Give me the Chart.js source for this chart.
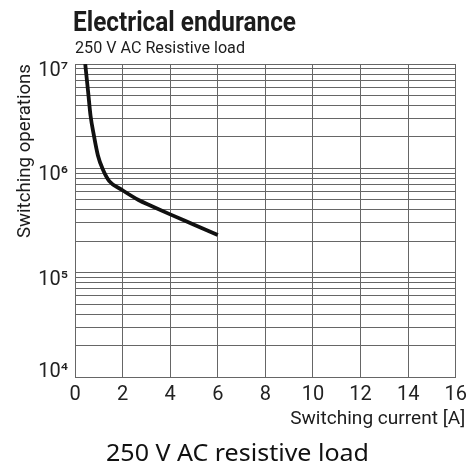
<!DOCTYPE html>
<html lang="en">
<head>
  <meta charset="UTF-8">
  <title>Electrical endurance</title>
  <script src="https://cdn.jsdelivr.net/npm/chart.js"></script>
  <style>
    html, body { margin: 0; padding: 0; background: #fff; }
    body { width: 473px; height: 466px; position: relative; overflow: hidden; }
    #wrap { position: absolute; left: 0; top: 0; width: 473px; height: 466px; }
    .txt { position: absolute; display: inline-block; white-space: nowrap; color: #1c1c1c; font-family: Roboto, sans-serif; }
    #title { left: 73px; top: 8px; font-size: 28px; line-height: 28px; font-weight: 700; transform-origin: 0 0; }
    #sub { left: 75px; top: 40px; font-size: 16px; line-height: 16px; transform-origin: 0 0; }
    #ytitle { left: 0; top: 0; font-size: 18px; line-height: 18px; transform-origin: 0 0; }
    #xtitle { right: 8px; top: 409px; font-size: 18px; line-height: 18px; transform-origin: 100% 0; }
    #caption { left: 106px; top: 440px; font-family: "Noto Sans", sans-serif; font-size: 24px; line-height: 24px; color: #111; transform-origin: 0 0; }
  </style>
</head>
<body>
  <div id="wrap"><canvas id="chart" width="473" height="466"></canvas></div>
  <span class="txt" id="title">Electrical endurance</span>
  <span class="txt" id="sub">250 V AC Resistive load</span>
  <span class="txt" id="ytitle">Switching operations</span>
  <span class="txt" id="xtitle">Switching current [A]</span>
  <span class="txt" id="caption">250 V AC resistive load</span>

  <script>
    // curve
    const current = [0.43, 0.555, 0.653, 0.788, 0.963, 1.167, 1.44, 1.98, 2.67, 3.21, 4.0, 4.98, 6.0];
    const operations = [1e7, 5.3e6, 3.2e6, 2.1e6, 1.33e6, 9.8e5, 7.55e5, 6.2e5, 4.97e5, 4.36e5, 3.62e5, 2.9e5, 2.3e5];

    const xTicks = [0, 2, 4, 6, 8, 10, 12, 14, 16];
    const yDecades = [4, 5, 6, 7];
    const supers = { 4: "\u2074", 5: "\u2075", 6: "\u2076", 7: "\u2077" };

    // condensed look: squeeze the html texts to the widths in the reference
    function squeeze(id, w, pre) {
      const el = document.getElementById(id);
      const s = w / el.getBoundingClientRect().width;
      el.style.transform = (pre || '') + ' scaleX(' + s + ')';
    }
    squeeze('title', 223);
    squeeze('sub', 170);
    squeeze('xtitle', 175);
    squeeze('caption', 263);
    squeeze('ytitle', 174, 'translate(15px, 238px) rotate(-90deg)');

    // every 1..9 x 10^n line for the log grid
    const yGrid = [];
    for (let d = yDecades[0]; d < yDecades[yDecades.length - 1]; d++) {
      for (let k = 1; k <= 9; k++) yGrid.push(k * Math.pow(10, d));
    }
    yGrid.push(Math.pow(10, yDecades[yDecades.length - 1]));

    const gridColor = '#666';
    const tickFont = { family: 'Roboto, sans-serif', size: 20 };

    const ctx = document.getElementById('chart').getContext('2d');
    new Chart(ctx, {
      type: 'line',
      data: {
        datasets: [{
          data: current.map((x, i) => ({ x: x, y: operations[i] })),
          borderColor: '#111',
          borderWidth: 3.8,
          pointRadius: 0,
          cubicInterpolationMode: 'monotone',
          fill: false
        }]
      },
      options: {
        responsive: false,
        animation: false,
        layout: { padding: { top: 64, right: 8, left: 0, bottom: 38 } },
        plugins: { legend: { display: false }, tooltip: { enabled: false } },
        scales: {
          x: {
            type: 'linear',
            min: 0, max: 16,
            afterBuildTicks: s => { s.ticks = xTicks.map(v => ({ value: v })); },
            afterFit: s => { s.height = 51; },
            border: { color: gridColor, width: 1 },
            grid: { color: gridColor, lineWidth: 1, drawTicks: false },
            ticks: { color: '#222', padding: 6, maxRotation: 0, font: tickFont }
          },
          y: {
            type: 'logarithmic',
            min: 1e4, max: 1e7,
            afterBuildTicks: s => { s.ticks = yGrid.map(v => ({ value: v })); },
            afterFit: s => { s.width = 75; },
            border: { color: gridColor, width: 1 },
            grid: { color: gridColor, lineWidth: 1, drawTicks: false },
            ticks: {
              autoSkip: false,
              color: '#222',
              padding: 7,
              labelOffset: 7,
              font: tickFont,
              callback: v => {
                const e = Math.log10(v);
                if (Math.abs(e - Math.round(e)) > 1e-9) return '';
                const lbl = '10' + supers[Math.round(e)];
                // lowest label sits above its line, clear of the x labels
                return Math.round(e) === yDecades[0] ? [lbl, ''] : lbl;
              }
            }
          }
        }
      }
    });
  </script>
</body>
</html>
